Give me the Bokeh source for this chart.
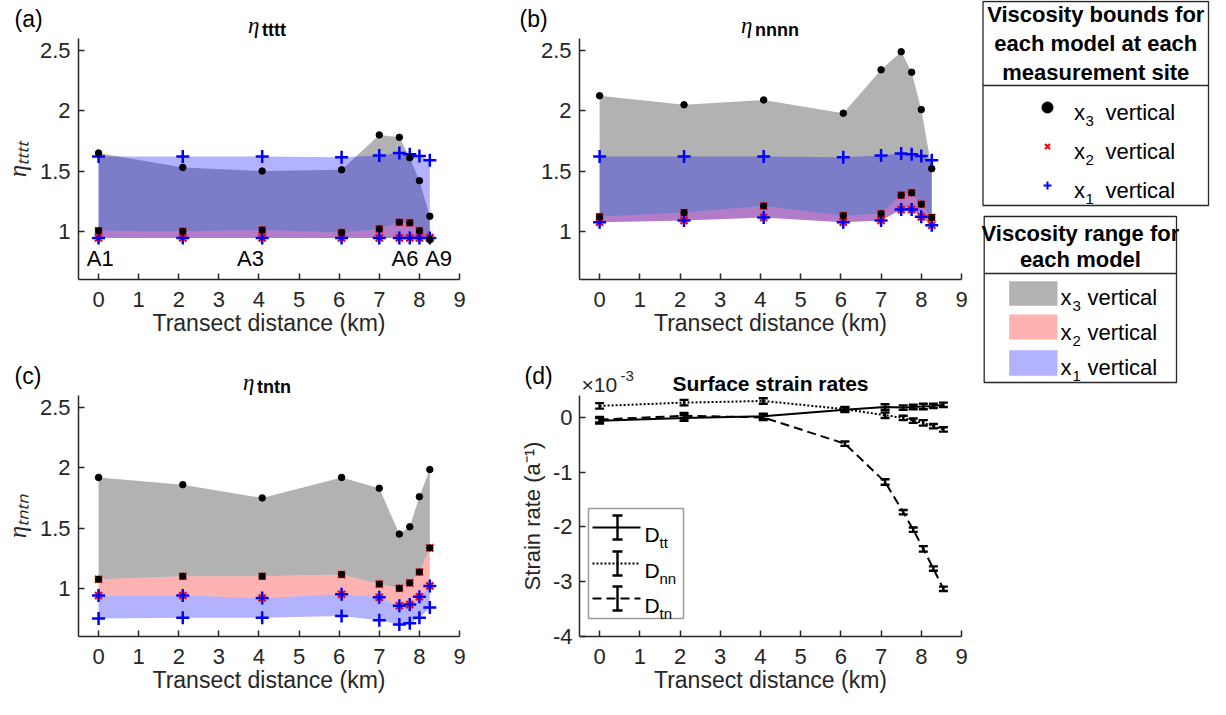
from bokeh.plotting import figure
from bokeh.layouts import row, column
from bokeh.models import (Range1d, FixedTicker, NumeralTickFormatter,
                          Whisker, TeeHead, ColumnDataSource)
from bokeh.embed import file_html
from bokeh.resources import INLINE
from bokeh.core.properties import value

FONT = "Liberation Sans"
SERIF = "Liberation Serif"
AX = "#262626"

# ---------------- data ----------------
sites = [0.0, 2.1, 4.08, 6.06, 7.0, 7.5, 7.76, 8.0, 8.26]
site_labels = ["A1", "A3", "A6", "A9"]
site_label_x = [0.04, 3.79, 7.64, 8.48]

# (a) eta_tttt
a_x3_hi = [1.65, 1.53, 1.50, 1.51, 1.80, 1.78, 1.61, 1.42, 1.125]
a_x3_lo = [1.005, 1.0, 1.01, 0.99, 1.02, 1.075, 1.07, 1.005, 0.93]
a_x2_hi = [1.005, 1.0, 1.01, 0.99, 1.02, 1.075, 1.07, 1.005, 0.945]
a_x2_lo = [0.945, 0.945, 0.945, 0.945, 0.945, 0.945, 0.945, 0.945, 0.945]
a_x1_hi = [1.62, 1.62, 1.62, 1.615, 1.63, 1.65, 1.64, 1.625, 1.59]
a_x1_lo = [0.945, 0.945, 0.945, 0.945, 0.945, 0.945, 0.945, 0.945, 0.945]

# (b) eta_nnnn
b_x3_hi = [2.125, 2.05, 2.09, 1.98, 2.34, 2.49, 2.32, 2.01, 1.52]
b_x3_lo = [1.12, 1.155, 1.21, 1.13, 1.145, 1.30, 1.32, 1.225, 1.115]
b_x2_hi = [1.12, 1.155, 1.21, 1.13, 1.145, 1.30, 1.32, 1.225, 1.115]
b_x2_lo = [1.075, 1.09, 1.115, 1.075, 1.09, 1.18, 1.18, 1.12, 1.05]
b_x1_hi = [1.62, 1.62, 1.62, 1.615, 1.63, 1.645, 1.64, 1.625, 1.59]
b_x1_lo = [1.075, 1.09, 1.115, 1.075, 1.09, 1.18, 1.18, 1.12, 1.05]

# (c) eta_tntn
c_x3_hi = [1.92, 1.86, 1.75, 1.92, 1.83, 1.45, 1.51, 1.76, 1.985]
c_x3_lo = [1.075, 1.10, 1.10, 1.115, 1.035, 1.0, 1.045, 1.135, 1.335]
c_x2_hi = [1.075, 1.10, 1.10, 1.115, 1.035, 1.0, 1.045, 1.135, 1.335]
c_x2_lo = [0.94, 0.94, 0.92, 0.95, 0.925, 0.855, 0.865, 0.93, 1.02]
c_x1_hi = [0.94, 0.94, 0.92, 0.95, 0.925, 0.855, 0.865, 0.93, 1.02]
c_x1_lo = [0.75, 0.755, 0.755, 0.77, 0.735, 0.70, 0.71, 0.755, 0.84]

# (d) surface strain rates (x 1e-3 a^-1)
d_x = [0.0, 2.1, 4.07, 6.1, 7.1, 7.55, 7.8, 8.05, 8.3, 8.55]
d_tt = [-0.06, -0.01, 0.02, 0.14, 0.19, 0.18, 0.19, 0.20, 0.21, 0.23]
d_nn = [0.21, 0.27, 0.30, 0.15, 0.04, -0.01, -0.06, -0.10, -0.16, -0.22]
d_tn = [-0.04, 0.03, 0.0, -0.48, -1.18, -1.73, -2.05, -2.40, -2.76, -3.13]
d_err = [0.05, 0.05, 0.05, 0.04, 0.05, 0.04, 0.04, 0.05, 0.04, 0.04]

x_ticks = [0, 1, 2, 3, 4, 5, 6, 7, 8, 9]
eta_ticks = [1, 1.5, 2, 2.5]
d_ticks = [-4, -3, -2, -1, 0]

TICK_FS = "22px"
LABEL_FS = "23px"


# ---------------- helper: text-only figure placed at page (ox, oy) ----------------
class TF:
    def __init__(self, w, h, ox, oy):
        self.w, self.h, self.ox, self.oy = w, h, ox, oy
        p = figure(width=w, height=h, x_range=Range1d(0, w), y_range=Range1d(0, h),
                   output_backend="svg", toolbar_location=None, min_border=0,
                   x_axis_location=None, y_axis_location=None, frame_align=False)
        p.outline_line_color = None
        p.grid.visible = False
        self.p = p

    def X(self, px):
        return px - self.ox

    def Y(self, py):
        return self.h - (py - self.oy)

    def text(self, px, py, t, size, style="normal", font=FONT, align="left",
             baseline="alphabetic", color="#000000"):
        self.p.text(x=[self.X(px)], y=[self.Y(py)], text=[t], text_font=value(font),
                    text_font_size=f"{size}px", text_font_style=style, text_align=align,
                    text_baseline=baseline, text_color=color)


def make_fig(width, height, bl, br, bb, xr, yr, yticks, fmt, ylabel, yfont, ystyle):
    p = figure(width=width, height=height, x_range=Range1d(*xr), y_range=Range1d(*yr),
               output_backend="svg", toolbar_location=None, frame_align=False,
               min_border_left=bl, min_border_right=br, min_border_top=0,
               min_border_bottom=bb)
    p.outline_line_color = None
    p.grid.visible = False
    for ax in (p.xaxis[0], p.yaxis[0]):
        ax.axis_line_color = AX
        ax.axis_line_width = 1.5
        ax.major_tick_line_color = AX
        ax.major_tick_line_width = 1.5
        ax.major_tick_in = 6
        ax.major_tick_out = 0
        ax.minor_tick_line_color = None
        ax.major_label_text_font = FONT
        ax.major_label_text_font_size = TICK_FS
        ax.major_label_text_color = AX
        ax.axis_label_text_color = AX
        ax.axis_label_text_font_size = LABEL_FS
    p.xaxis.ticker = FixedTicker(ticks=x_ticks)
    p.yaxis.ticker = FixedTicker(ticks=yticks)
    p.yaxis.formatter = NumeralTickFormatter(format=fmt)
    p.xaxis.major_label_standoff = 12
    p.yaxis.major_label_standoff = 8
    p.xaxis.axis_label = "Transect distance (km)"
    p.xaxis.axis_label_text_font = FONT
    p.xaxis.axis_label_text_font_style = "normal"
    p.xaxis.axis_label_standoff = 0
    p.yaxis.axis_label = ylabel
    p.yaxis.axis_label_text_font = yfont
    p.yaxis.axis_label_text_font_style = ystyle
    p.yaxis.axis_label_standoff = 6
    return p


def eta_main(width, height, bl, br, bb, ylabel, x3h, x3l, x2h, x2l, x1h, x1l):
    p = make_fig(width, height, bl, br, bb, (-0.5, 9), (0.6, 2.6), eta_ticks, "0.[0]",
                 ylabel, SERIF, "italic")
    p.yaxis.axis_label_text_font_size = "25px"
    p.varea(x=sites, y1=x3l, y2=x3h, fill_color="black", fill_alpha=0.3)
    p.varea(x=sites, y1=x2l, y2=x2h, fill_color="red", fill_alpha=0.3)
    p.varea(x=sites, y1=x1l, y2=x1h, fill_color="blue", fill_alpha=0.3)
    for ys in (x2h, x2l):
        p.scatter(sites, ys, marker="x", size=10, line_color="red", line_width=2.2)
    for ys in (x1h, x1l):
        p.scatter(sites, ys, marker="cross", size=13, line_color="blue", line_width=2.5)
    for ys in (x3h, x3l):
        p.scatter(sites, ys, marker="circle", size=6.5, fill_color="black", line_color="black")
    return p


def eta_header(h, letter, sub, letter_x, fc, y0):
    h.text(letter_x, y0 - 20, f"({letter})", 23, baseline="middle")
    sw = sum(0.333 if c == "t" else 0.611 for c in sub) * 18
    tl = fc - (15 + sw) / 2
    h.text(tl, y0 - 13, "\u03b7", 23, style="italic", font=SERIF)
    h.text(tl + 14, y0 - 9, sub, 18, style="bold")


SUB_T, SUB_N = "\u209c", "\u2099"

# ---------------- panel (a) ----------------
hA = TF(485, 38, 8, 8)
mA = eta_main(485, 319, 75, 26, 78, "\u03b7" + SUB_T * 4,
              a_x3_hi, a_x3_lo, a_x2_hi, a_x2_lo, a_x1_hi, a_x1_lo)
mA.text(x=site_label_x, y=[0.774] * len(site_labels), text=site_labels,
        text_font=value(FONT), text_font_size="22px", text_align="center",
        text_baseline="middle", text_color="#000000")
eta_header(hA, "a", "tttt", 22, 275, 46)

# ---------------- panel (b) ----------------
hB = TF(491, 38, 493, 8)
mB = eta_main(491, 319, 94, 15, 78, "",
              b_x3_hi, b_x3_lo, b_x2_hi, b_x2_lo, b_x1_hi, b_x1_lo)
eta_header(hB, "b", "nnnn", 527, 778, 46)

# ---------------- panel (c) ----------------
hC = TF(485, 38, 8, 365)
mC = eta_main(485, 304, 75, 26, 63, "\u03b7" + (SUB_T + SUB_N) * 2,
              c_x3_hi, c_x3_lo, c_x2_hi, c_x2_lo, c_x1_hi, c_x1_lo)
eta_header(hC, "c", "tntn", 22, 275, 403)

# ---------------- panel (d) ----------------
hD = TF(491, 38, 493, 365)
mD = make_fig(491, 304, 94, 15, 63, (-0.5, 9), (-4, 0.4), d_ticks, "0",
              "Strain rate (a\u207b\u00b9)", FONT, "normal")
mD.yaxis.major_label_standoff = 7
mD.yaxis.axis_label_standoff = 5
mD.yaxis.axis_label_text_font_size = "22px"


def dx(px):  # page px -> data (frame x 587..969)
    return -0.5 + (px - 587) / 382 * 9.5


def dy(py):  # page py -> data (frame y 403..644)
    return 0.4 - (py - 403) / 241 * 4.4


mD.quad(left=dx(596), right=dx(691), top=dy(516), bottom=dy(626),
        fill_color="white", line_color="#9a9a9a", line_width=1.5)
series = [("tt", d_tt, "solid"), ("nn", d_nn, "2 2"), ("tn", d_tn, "9 5")]
for name, ys, dash in series:
    mD.line(d_x, ys, line_color="black", line_width=2, line_dash=dash)
    src = ColumnDataSource(dict(x=d_x, up=[v + e for v, e in zip(ys, d_err)],
                                lo=[v - e for v, e in zip(ys, d_err)]))
    mD.add_layout(Whisker(base="x", upper="up", lower="lo", source=src,
                          line_color="black", line_width=2.4,
                          upper_head=TeeHead(size=9, line_color="black", line_width=2.4),
                          lower_head=TeeHead(size=9, line_color="black", line_width=2.4)))
row_y = [535, 571, 606]
for (name, ys, dash), ry in zip(series, row_y):
    mD.line([dx(600), dx(648)], [dy(ry)] * 2, line_color="black", line_width=2, line_dash=dash)
    mD.segment(x0=[dx(625)], y0=[dy(ry - 12)], x1=[dx(625)], y1=[dy(ry + 12)],
               line_color="black", line_width=2.4)
    mD.segment(x0=[dx(620), dx(620)], y0=[dy(ry - 12), dy(ry + 12)],
               x1=[dx(630), dx(630)], y1=[dy(ry - 12), dy(ry + 12)],
               line_color="black", line_width=2.4)
    mD.text(x=[dx(652)], y=[dy(ry + 7)], text=["D"], text_font=value(FONT),
            text_font_size="21px", text_baseline="alphabetic", text_color="#000000")
    mD.text(x=[dx(667)], y=[dy(ry + 15)], text=[name], text_font=value(FONT),
            text_font_size="15px", text_baseline="alphabetic", text_color="#000000")

hD.text(532, 383, "(d)", 23, baseline="middle")
hD.text(778, 391, "Surface strain rates", 21, style="bold", align="center")
hD.text(589, 392, "\u00d710", 21, color=AX)
hD.text(628, 383, "-3", 15, color=AX)

# ---------------- legend figure ----------------
L = TF(234, 699, 984, 8)
pl = L.p
X, Y = L.X, L.Y
# box 1
pl.quad(left=X(990.5), right=X(1216), top=Y(9), bottom=Y(213), fill_color="white",
        line_color=AX, line_width=1.3)
pl.segment(x0=[X(990.5)], y0=[Y(93)], x1=[X(1216)], y1=[Y(93)], line_color=AX, line_width=1.3)
for t, yy in zip(["Viscosity bounds for", "each model at each", "measurement site"], [22, 51, 80]):
    L.text(1103.3, yy, t, 22, style="bold", align="center", baseline="middle")
pl.scatter([X(1055)], [Y(115)], marker="circle", size=11, fill_color="black", line_color="black")
pl.scatter([X(1055)], [Y(154)], marker="x", size=7, line_color="red", line_width=2)
pl.scatter([X(1055)], [Y(193)], marker="cross", size=8, line_color="blue", line_width=2)
for d, yy in zip(["3", "2", "1"], [120, 159, 198]):
    L.text(1081.5, yy, "x", 22)
    L.text(1093, yy + 8, d, 15)
    L.text(1113, yy, "vertical", 22)
# box 2
pl.quad(left=X(991.7), right=X(1184), top=Y(224), bottom=Y(390), fill_color="white",
        line_color=AX, line_width=1.3)
pl.segment(x0=[X(991.7)], y0=[Y(281)], x1=[X(1184)], y1=[Y(281)], line_color=AX, line_width=1.3)
for t, yy in zip(["Viscosity range for", "each model"], [240.7, 267]):
    L.text(1087.9, yy, t, 22, style="bold", align="center", baseline="middle")
pl.quad(left=[X(1016.7)] * 3, right=[X(1065)] * 3,
        top=[Y(288.7), Y(322), Y(357.7)], bottom=[Y(313.3), Y(347), Y(383.3)],
        fill_color=["black", "red", "blue"], fill_alpha=0.3, line_color=None)
for d, yy in zip(["3", "2", "1"], [305, 340, 375]):
    L.text(1068, yy, "x", 22)
    L.text(1080, yy + 8, d, 15)
    L.text(1095, yy, "vertical", 22)

colA = column(hA.p, mA)
colB = column(hB.p, mB)
colC = column(hC.p, mC)
colD = column(hD.p, mD)
layout = row(column(row(colA, colB), row(colC, colD)), pl)
open("out.html", "w").write(file_html(layout, INLINE))
